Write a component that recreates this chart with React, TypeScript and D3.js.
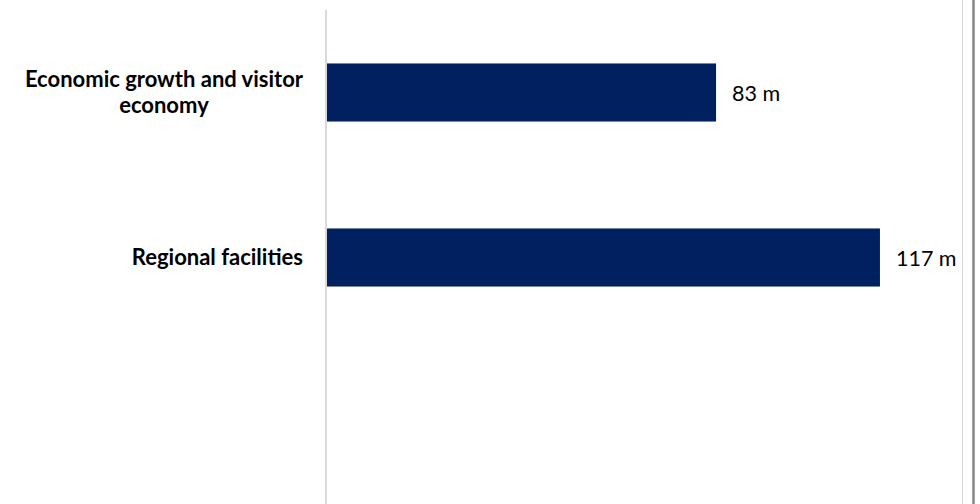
import React, { useEffect, useRef } from "react";
import * as d3 from "d3";

const categories: string[] = ["Economic growth and visitor economy", "Regional facilities", ""];
const values: (number | null)[] = [82.6, 117.4, null];
const valueSuffix = " m";

const W = 980;
const H = 504;

export default function App() {
  const ref = useRef<SVGSVGElement | null>(null);

  useEffect(() => {
    const svg = d3.select(ref.current);
    svg.selectAll("*").remove();

    const axisX = 326;
    const x = d3.scaleLinear().domain([0, 130]).range([327, 327 + 130 * 4.71]);
    const y = d3.scaleBand<string>()
      .domain(categories.map((c, i) => String(i)))
      .range([10, 505])
      .paddingInner(0.648)
      .paddingOuter(0.324);

    svg.append("rect").attr("width", W).attr("height", H).attr("fill", "#ffffff");

    // right frame lines
    svg.append("line").attr("x1", 962.5).attr("x2", 962.5).attr("y1", 0).attr("y2", H)
      .attr("stroke", "#d9d9d9").attr("stroke-width", 1);
    svg.append("line").attr("x1", 973.5).attr("x2", 973.5).attr("y1", 0).attr("y2", H)
      .attr("stroke", "#858585").attr("stroke-width", 2.5);

    // bars
    const rows = categories.map((c, i) => ({ c, v: values[i], k: String(i) }));
    svg.append("g").selectAll("rect")
      .data(rows.filter(r => r.v != null))
      .join("rect")
      .attr("x", x(0))
      .attr("y", d => y(d.k)!)
      .attr("width", d => x(d.v as number) - x(0))
      .attr("height", y.bandwidth())
      .attr("fill", "#002060");

    // axis line
    svg.append("line").attr("x1", axisX).attr("x2", axisX).attr("y1", 10).attr("y2", H)
      .attr("stroke", "#d9d9d9").attr("stroke-width", 2);

    // value labels
    const fmt = d3.format(".0f");
    svg.append("g").selectAll("text")
      .data(rows.filter(r => r.v != null))
      .join("text")
      .attr("x", d => x(d.v as number) + 16)
      .attr("y", d => y(d.k)! + y.bandwidth() / 2 + 8)
      .attr("font-family", "Lato, 'Open Sans', sans-serif")
      .attr("font-size", 21.5)
      .attr("fill", "#000")
      .text(d => fmt(d.v as number) + valueSuffix);

    // category labels with wrapping
    const labelRight = 303;
    const maxWidth = 292;
    const lineH = 26;
    const g = svg.append("g");
    rows.forEach(r => {
      if (!r.c) return;
      const cy = y(r.k)! + y.bandwidth() / 2;
      const t = g.append("text")
        .attr("font-family", "Lato, 'Open Sans', sans-serif")
        .attr("font-size", 22)
        .attr("font-weight", "bold")
        .attr("fill", "#000")
        .attr("text-anchor", "middle");
      const words = r.c.split(" ");
      const lines: string[] = [];
      let cur = "";
      const probe = t.append("tspan");
      words.forEach(w => {
        const test = cur ? cur + " " + w : w;
        probe.text(test);
        if ((probe.node() as SVGTextContentElement).getComputedTextLength() > maxWidth && cur) {
          lines.push(cur);
          cur = w;
        } else {
          cur = test;
        }
      });
      if (cur) lines.push(cur);
      probe.remove();
      let maxW = 0;
      const spans = lines.map(l => {
        const s = t.append("tspan").text(l);
        maxW = Math.max(maxW, (s.node() as SVGTextContentElement).getComputedTextLength());
        return s;
      });
      const cx = labelRight - maxW / 2;
      const firstBase = cy + 7 - ((lines.length - 1) * lineH) / 2;
      spans.forEach((s, i) => s.attr("x", cx).attr("y", firstBase + i * lineH));
    });
  }, []);

  return (
    <svg
      ref={ref}
      width={W}
      height={H}
      style={{ position: "absolute", left: 0, top: 0, display: "block" }}
    />
  );
}
